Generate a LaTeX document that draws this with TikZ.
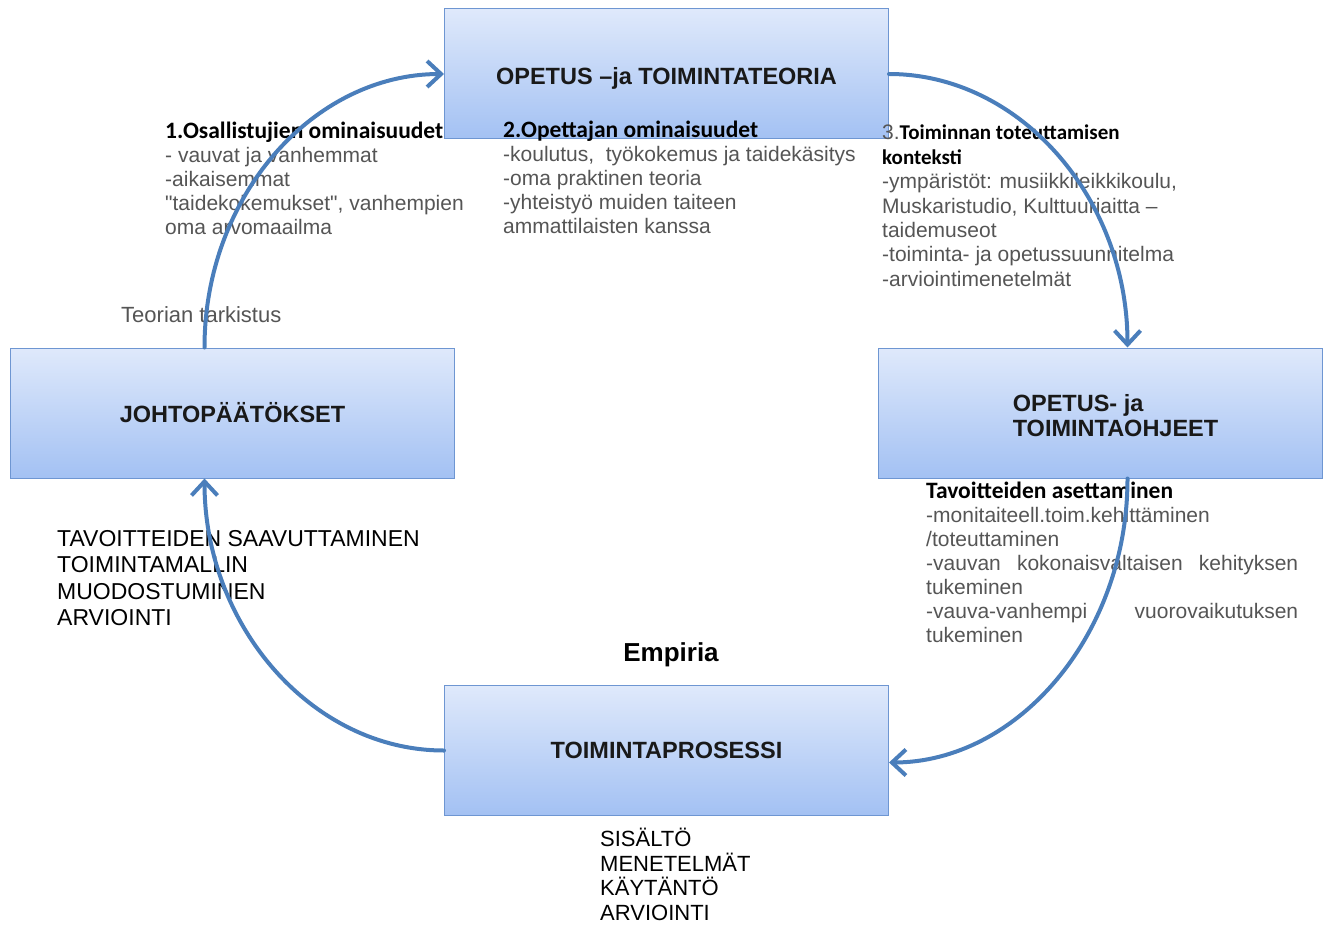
\documentclass[tikz,border=0pt]{standalone}
\usepackage{fontspec}
\setmainfont{Liberation Sans}[Ligatures=TeXOff]
\newfontfamily\headfont{Carlito}
\usetikzlibrary{arrows.meta}
\definecolor{Btop}{RGB}{223,233,251}
\definecolor{Bbot}{RGB}{163,193,243}
\definecolor{Bedge}{RGB}{110,150,210}
\definecolor{Arc}{RGB}{74,126,187}
\definecolor{Grey}{RGB}{85,85,85}
\newcommand{\hd}[2][23.5]{{\headfont\bfseries\fontsize{#1}{24}\selectfont\color{black}#2}}

\begin{document}
\begin{tikzpicture}[x=1pt,y=-1pt,line cap=round,
  box/.style={draw=Bedge,line width=1pt,top color=Btop,bottom color=Bbot,
    minimum width=444pt,minimum height=130pt,inner sep=0pt,text=black!90,
    font=\bfseries\fontsize{23.5}{25}\selectfont},
  flow/.style={draw=Arc,line width=4pt,-{Straight Barb[length=14pt,width=26pt]}},
  note/.style={anchor=north west,inner sep=0pt,align=left,text=Grey,
    font=\fontsize{21}{24}\selectfont,execute at begin node={\rule{0pt}{22pt}}},
  capsnote/.style={anchor=north west,inner sep=0pt,align=left,text=black,
    execute at begin node={\rule{0pt}{22pt}}}]
\path[use as bounding box] (0,0) rectangle (1330,925);

% the four stages
\node[box] (teoria) at (666.5,74) {\raisebox{-4pt}[\height][\depth]{OPETUS –ja TOIMINTATEORIA}};
\node[box] (ohjeet) at (1100.5,413) {\hspace{30pt}\raisebox{-6pt}[\height][\depth]{\begin{tabular}{@{}l@{}}OPETUS- ja\\TOIMINTAOHJEET\end{tabular}}};
\node[box] (johto) at (232.5,413) {JOHTOPÄÄTÖKSET};
\node[box] (prosessi) at (666.5,750.5) {TOIMINTAPROSESSI};

% texts round the cycle
\node[note] (osall) at (165,122) {\hd{1.Osallistujien ominaisuudet}\\- vauvat ja vanhemmat\\-aikaisemmat\\"taidekokemukset", vanhempien\\oma arvomaailma};
\node[note] (opett) at (503,121) {\hd{2.Opettajan ominaisuudet}\\-koulutus,\ \ työkokemus ja taidekäsitys\\-oma praktinen teoria\\-yhteistyö muiden taiteen\\ammattilaisten kanssa};
\node[note,font=\fontsize{21}{24.4}\selectfont] (konteksti) at (882,125) {3.\hd[21]{Toiminnan toteuttamisen}\\\hd[21]{konteksti}\\-ympäristöt: musiikkileikkikoulu,\\Muskaristudio, Kulttuuriaitta –\\taidemuseot\\-toiminta- ja opetussuunnitelma\\-arviointimenetelmät};
\node[note] (tavoite) at (926,482) {\hd{Tavoitteiden asettaminen}\\-monitaiteell.toim.kehittäminen\\/toteuttaminen\\\makebox[372pt][s]{-vauvan kokonaisvaltaisen kehityksen}\\tukeminen\\\makebox[372pt][s]{-vauva-vanhempi vuorovaikutuksen}\\tukeminen};
\node[note,font=\fontsize{22}{24}\selectfont] (tarkistus) at (121,300) {Teorian tarkistus};
\node[capsnote,font=\fontsize{23}{26.5}\selectfont] (saavutus) at (57,530) {TAVOITTEIDEN SAAVUTTAMINEN\\TOIMINTAMALLIN\\MUODOSTUMINEN\\ARVIOINTI};
\node[font=\bfseries\fontsize{26}{30}\selectfont] (empiria) at (671,655) {Empiria};
\node[capsnote,font=\fontsize{22}{24.5}\selectfont] (sisalto) at (600,828) {SISÄLTÖ\\MENETELMÄT\\KÄYTÄNTÖ\\ARVIOINTI};

% arcs
\draw[flow] ([xshift=-28pt]johto.north) .. controls +(0,-152) and +(-130,0) .. (teoria.west);
\draw[flow] (teoria.east) .. controls +(131,0) and +(0,-149) .. ([xshift=27pt]ohjeet.north);
\draw[flow] ([xshift=27pt]ohjeet.south) .. controls +(0,157) and +(128,0) .. ([yshift=-12pt]prosessi.east);
\draw[flow] (prosessi.west) .. controls +(-132,0) and +(0,147) .. ([xshift=-28pt]johto.south);
\end{tikzpicture}
\end{document}
